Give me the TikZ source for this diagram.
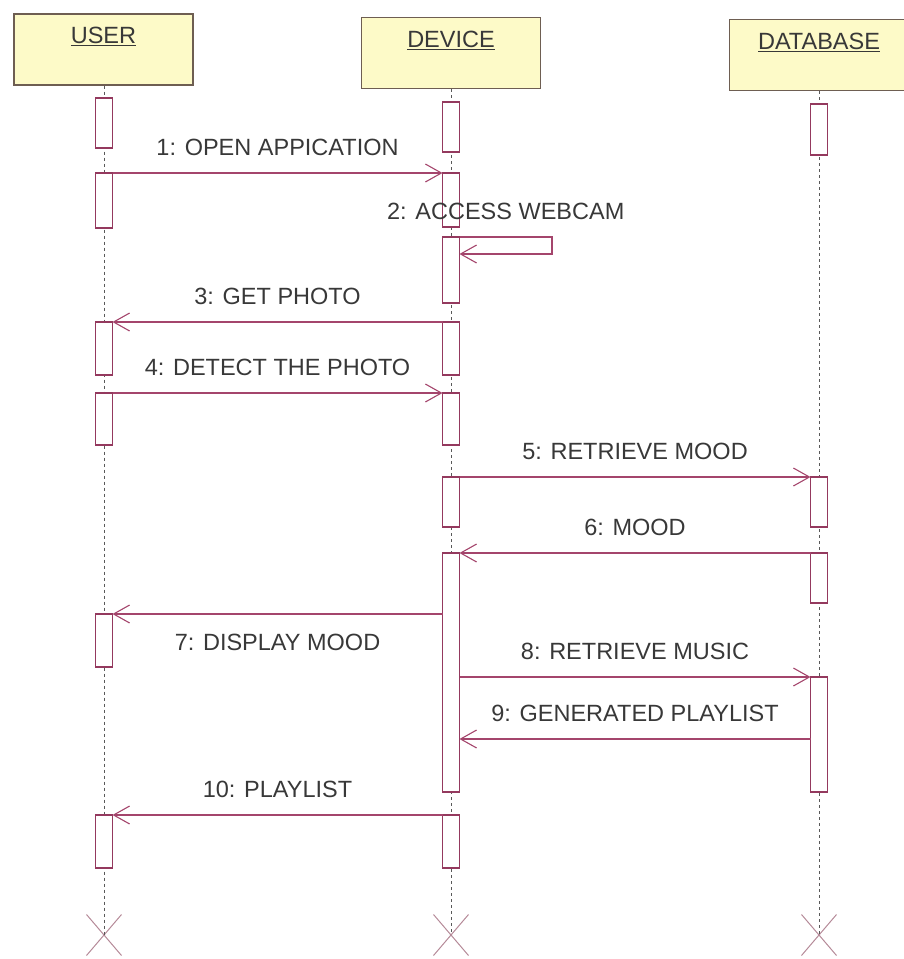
\documentclass[tikz,border=0pt]{standalone}
\usepackage{fontspec}
\setmainfont{Liberation Sans}
\usepackage{tikz}
\usetikzlibrary{positioning, arrows.meta, shapes.misc}

\definecolor{headfill}{HTML}{FDFAC8}
\definecolor{headline}{HTML}{6E5E52}
\definecolor{actline}{HTML}{94395E}
\definecolor{msgline}{HTML}{A4456C}
\definecolor{crossline}{HTML}{B58A98}
\definecolor{txtcol}{HTML}{383838}

\begin{document}
\begin{tikzpicture}[
  x=1pt, y=-1pt,
  font=\fontsize{23.5}{28}\selectfont,
  head/.style={
    draw=headline,
    fill=headfill,
    line width=1.4pt,
    minimum width=179pt,
    minimum height=71pt,
    inner sep=0pt,
  },
  headtxt/.style={anchor=north, inner sep=0pt, text=txtcol, yshift=-14pt},
  act/.style={
    draw=actline,
    fill=white,
    line width=1.2pt,
    minimum width=17pt,
    inner sep=0pt,
    outer sep=0pt,
  },
  lifeline/.style={draw=black!65, line width=0.9pt, dash pattern=on 3pt off 3pt},
  endx/.style={cross out, draw=crossline, line width=1pt, minimum width=34pt, minimum height=40pt, inner sep=0pt},
  msg/.style={draw=msgline, line width=1.2pt, -{Straight Barb[length=16pt, width=18pt, line width=1.1pt]}},
  lbl/.style={inner sep=0pt, text=txtcol},
]
\useasboundingbox (0,0) rectangle (903,959);

% --- heads ---
\node[head, label={[headtxt]north:\underline{USER}}] (user) at (103.5,49.5) {};
\node[head, label={[headtxt]north:\underline{DEVICE}}] (device) at (451,53) {};
\node[head, label={[headtxt]north:\underline{DATABASE}}] (db) at (819,55) {};

% --- destruction marks ---
\node[endx] (userx) at (104,935) {};
\node[endx] (devicex) at (451,935) {};
\node[endx] (dbx) at (819,935) {};

% --- lifelines ---
\draw[lifeline] (user.south -| userx) -- (userx.center);
\draw[lifeline] (device.south -| devicex) -- (devicex.center);
\draw[lifeline] (db.south -| dbx) -- (dbx.center);

% --- activations (name/top/bottom) ---
\foreach \n/\t/\b in {u1/98/148, u2/173/228, u3/322/375, u4/393/445, u5/614/667, u6/815/868}
  \node[act, minimum height={\b-\t}] (\n) at (104,{(\t+\b)/2}) {};
\foreach \n/\t/\b in {d1/102/152, d2/173/227, d3/237/303, d4/322/375, d5/393/445, d6/477/527, d7/553/792, d8/815/868}
  \node[act, minimum height={\b-\t}] (\n) at (451,{(\t+\b)/2}) {};
\foreach \n/\t/\b in {b1/104/155, b2/477/527, b3/553/603, b4/677/792}
  \node[act, minimum height={\b-\t}] (\n) at (819,{(\t+\b)/2}) {};

% --- messages ---
\draw[msg] (u2.north east) -- node[lbl, above=17pt] {1: OPEN APPICATION} (d2.north west);
% self call on the device
\coordinate (selfa) at (552,237);
\coordinate (selfb) at (552,254);
\draw[msg] (d3.north east) -- node[lbl, above=17pt] {2: ACCESS WEBCAM} (selfa) -- (selfb) -- (d3.east |- selfb);
\draw[msg] (d4.north west) -- node[lbl, above=17pt] {3: GET PHOTO} (u3.north east);
\draw[msg] (u4.north east) -- node[lbl, above=17pt] {4: DETECT THE PHOTO} (d5.north west);
\draw[msg] (d6.north east) -- node[lbl, above=17pt] {5: RETRIEVE MOOD} (b2.north west);
\draw[msg] (b3.north west) -- node[lbl, above=17pt] {6: MOOD} (d7.north east);
\draw[msg] (d7.west |- u5.north) -- node[lbl, below=19pt] {7: DISPLAY MOOD} (u5.north east);
\draw[msg] (d7.east |- b4.north) -- node[lbl, above=17pt] {8: RETRIEVE MUSIC} (b4.north west);
\coordinate (ret9) at (819,739);
\draw[msg] (b4.west |- ret9) -- node[lbl, above=17pt] {9: GENERATED PLAYLIST} (d7.east |- ret9);
\draw[msg] (d8.north west) -- node[lbl, above=17pt] {10: PLAYLIST} (u6.north east);
\end{tikzpicture}
\end{document}
